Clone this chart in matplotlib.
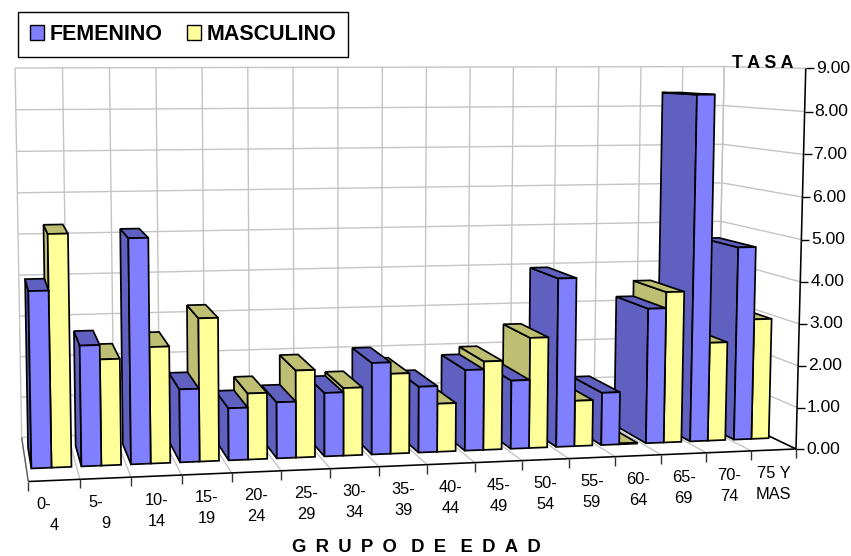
import numpy as np
import matplotlib
matplotlib.use("Agg")
import matplotlib.pyplot as plt
from matplotlib.patches import Patch, Polygon

plt.rcParams['font.family'] = ['Liberation Sans', 'DejaVu Sans']

# chart data
grupos = ["0-\n4", "5-\n9", "10-\n14", "15-\n19", "20-\n24", "25-\n29", "30-\n34", "35-\n39",
          "40-\n44", "45-\n49", "50-\n54", "55-\n59", "60-\n64", "65-\n69", "70-\n74", "75 Y\nMAS"]
femenino = [4.05, 2.78, 5.20, 1.70, 1.22, 1.32, 1.50, 2.17, 1.57, 1.93, 1.64, 4.05, 1.27, 3.27, 8.37, 4.70]
masculino = [5.33, 2.45, 2.70, 3.33, 1.55, 2.05, 1.60, 1.90, 1.15, 2.12, 2.65, 1.10, 0.02, 3.66, 2.40, 2.94]
yticks = [0, 1, 2, 3, 4, 5, 6, 7, 8, 9]

# colours: front face, side and top face
AZUL = ("#8080FF", "#6060C0")
AMAR = ("#FFFF99", "#BFBF73")
GRID = "#C4C4C4"

# box corners (cat, depth, value) and where they sit on the 851x556 canvas
corners = [(0, 0, 0), (16, 0, 0), (16, 0, 9), (0, 1, 0), (16, 1, 0), (0, 1, 9), (16, 1, 9)]
pixels = [(28, 482), (797, 448), (805, 69), (22, 437), (716, 412), (15, 68), (725, 66)]


def fit_camera():
    rows = []
    for (c, d, v), (px, py) in zip(corners, pixels):
        w = [c / 16, d, v / 9, 1]
        rows.append(w + [0, 0, 0, 0] + [-px * a for a in w])
        rows.append([0, 0, 0, 0] + w + [-py * a for a in w])
    return np.linalg.svd(np.array(rows))[2][-1].reshape(3, 4)


CAM = fit_camera()


def proj(c, d, v):
    p = CAM @ np.array([c / 16, d, v / 9, 1])
    return p[0] / p[2], p[1] / p[2]


def draw_bar(ax, c0, c1, d0, d1, v, cols):
    side = [proj(c0, d0, 0), proj(c0, d1, 0), proj(c0, d1, v), proj(c0, d0, v)]
    top = [proj(c0, d0, v), proj(c0, d1, v), proj(c1, d1, v), proj(c1, d0, v)]
    front = [proj(c0, d0, 0), proj(c1, d0, 0), proj(c1, d0, v), proj(c0, d0, v)]
    for pts, col in ((side, cols[1]), (top, cols[1]), (front, cols[0])):
        ax.add_patch(Polygon(pts, closed=True, fc=col, ec="black", lw=1.25, joinstyle="miter", zorder=3))


def line(ax, a, b, col, lw=1.0):
    ax.plot([a[0], b[0]], [a[1], b[1]], color=col, lw=lw, solid_capstyle="butt", zorder=1)


fig = plt.figure(figsize=(8.51, 5.56), dpi=100)
ax = fig.add_axes([0, 0, 1, 1])
ax.set_xlim(0, 851)
ax.set_ylim(556, 0)
ax.axis("off")

n = len(grupos)

# walls and floor grid
for v in yticks:
    line(ax, proj(0, 1, v), proj(n, 1, v), GRID)
    line(ax, proj(n, 1, v), proj(n, 0, v), GRID)
for c in range(n + 1):
    line(ax, proj(c, 1, 0), proj(c, 1, 9), GRID)
    line(ax, proj(c, 0, 0), proj(c, 1, 0), GRID)
line(ax, proj(n, 1, 0), proj(n, 1, 9), GRID)

# floor edges and the axes
line(ax, proj(0, 0, 0), proj(n, 0, 0), "black", 1.15)
line(ax, proj(n, 0, 0), proj(n, 1, 0), "black", 1.15)
line(ax, proj(0, 0, 0), proj(0, 1, 0), "#555555", 0.9)
line(ax, proj(n, 0, 0), proj(n, 0, 9), "black", 1.15)
for c in range(n + 1):
    x, y = proj(c, 0, 0)
    line(ax, (x, y), (x, y + 9), "#333333", 1.0)
for v in yticks:
    x, y = proj(n, 0, v)
    line(ax, (x, y), (x + 8, y), "black", 1.0)
    ax.text(x + 10, y, "%.2f" % v, ha="left", va="center", fontsize=12.6, color="black")

# bars, painted from the far right side to the near left side
D0, D1 = 0.27, 0.74
for i in range(n - 1, -1, -1):
    draw_bar(ax, i + 0.5, i + 0.9, D0, D1, masculino[i], AMAR)
    draw_bar(ax, i + 0.1, i + 0.5, D0, D1, femenino[i], AZUL)

# category labels, two lines each
for i, g in enumerate(grupos):
    x, y = proj(i + 0.5, 0, 0)
    arriba, abajo = g.split("\n")
    dx = -10 if i < 2 else 0
    ax.text(x + dx, y + 24, arriba, ha="center", va="center", fontsize=11.8)
    ax.text(x, y + 45, abajo, ha="center", va="center", fontsize=11.8)

ax.text(763, 64, "T A S A", ha="center", va="center", fontsize=12.8, fontweight="bold")
ax.text(416, 547, "G\u2002R\u2002U\u2002P\u2002O\u2002 D\u2002E\u2002 E\u2002D\u2002A\u2002D",
        ha="center", va="center", fontsize=13.3, fontweight="bold")

handles = [Patch(fc=AZUL[0], ec="black", lw=1.0, label="FEMENINO"),
           Patch(fc=AMAR[0], ec="black", lw=1.0, label="MASCULINO")]
leg = ax.legend(handles=handles, ncol=2, loc="upper left", bbox_to_anchor=(18 / 851, 1 - 12 / 556),
                borderaxespad=0, frameon=True, fancybox=False, edgecolor="black", framealpha=1,
                prop={"size": 15.5, "weight": "bold"}, handlelength=0.65, handleheight=0.65,
                handletextpad=0.24, columnspacing=1.15, borderpad=0.56)
leg.get_frame().set_linewidth(1.0)
leg.set_zorder(5)

fig.savefig("out.png", dpi=100)
